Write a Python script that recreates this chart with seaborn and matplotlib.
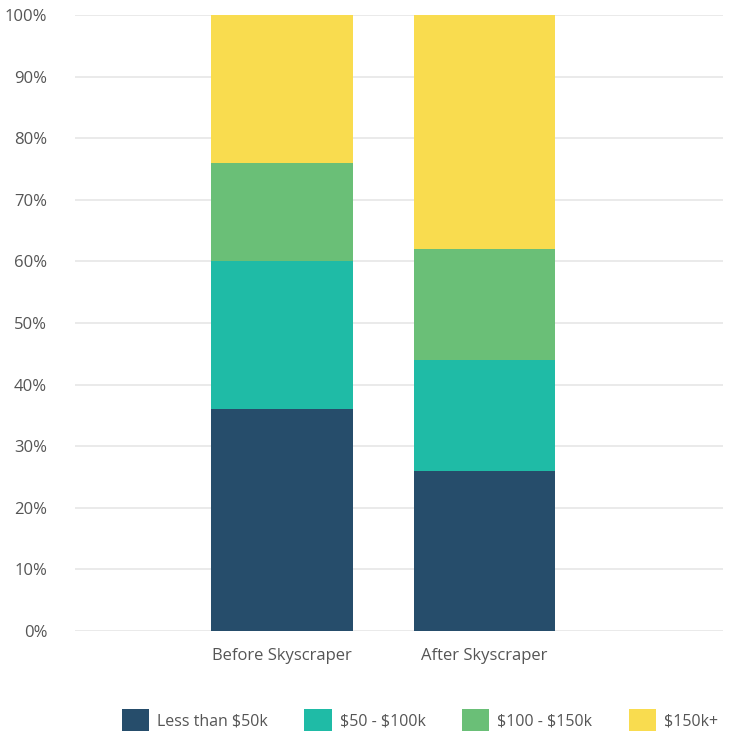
import numpy as np
import pandas as pd
import seaborn as sns
import matplotlib.pyplot as plt
from matplotlib.patches import Patch
from matplotlib.ticker import PercentFormatter

categories = ['Before Skyscraper', 'After Skyscraper']
series = ['Less than $50k', '$50 - $100k', '$100 - $150k', '$150k+']
less_50k = [36, 26]
from_50_100k = [24, 18]
from_100_150k = [16, 18]
over_150k = [24, 38]
colors = ['#264d6b', '#1fbba6', '#6abf77', '#f9dc4f']

sns.set_theme(style='white')
plt.rcParams['font.family'] = ['Liberation Sans Narrow', 'Open Sans', 'DejaVu Sans']
plt.rcParams['text.parse_math'] = False

fig = plt.figure(figsize=(7.31, 7.38), dpi=100)
ax = fig.add_axes([75 / 731, 1 - 631 / 738, 648 / 731, 616 / 738])

values = np.array([less_50k, from_50_100k, from_100_150k, over_150k])
cum = values.cumsum(axis=0)

# draw tallest cumulative first so lower segments sit on top
for i in range(len(series) - 1, -1, -1):
    df = pd.DataFrame({'cat': categories, 'val': cum[i]})
    sns.barplot(data=df, x='cat', y='val', ax=ax, color=colors[i],
                width=0.7, saturation=1, edgecolor='none', zorder=2)

ax.set_ylim(0, 100)
ax.set_xlim(-1.025, 2.18)
ax.set_yticks(np.arange(0, 101, 10))
ax.yaxis.set_major_formatter(PercentFormatter(decimals=0))
ax.grid(axis='y', color='#e6e6e6', linewidth=1.2, zorder=0)
ax.set_axisbelow(True)
for s in ax.spines.values():
    s.set_visible(False)
ax.set_xlabel('')
ax.set_ylabel('')
ax.tick_params(axis='both', length=0, labelsize=12, colors='#555555')
ax.tick_params(axis='y', pad=20)
ax.tick_params(axis='x', pad=12)

handles = [Patch(facecolor=c, edgecolor='none') for c in colors]
fig.legend(handles, series, loc='center', bbox_to_anchor=(420 / 731, 1 - 720 / 738),
           ncol=4, frameon=False, fontsize=11.5, handlelength=1.7, handleheight=1.7,
           columnspacing=2.3, handletextpad=0.5, labelcolor='#555555')

fig.savefig('out.png', dpi=100)
